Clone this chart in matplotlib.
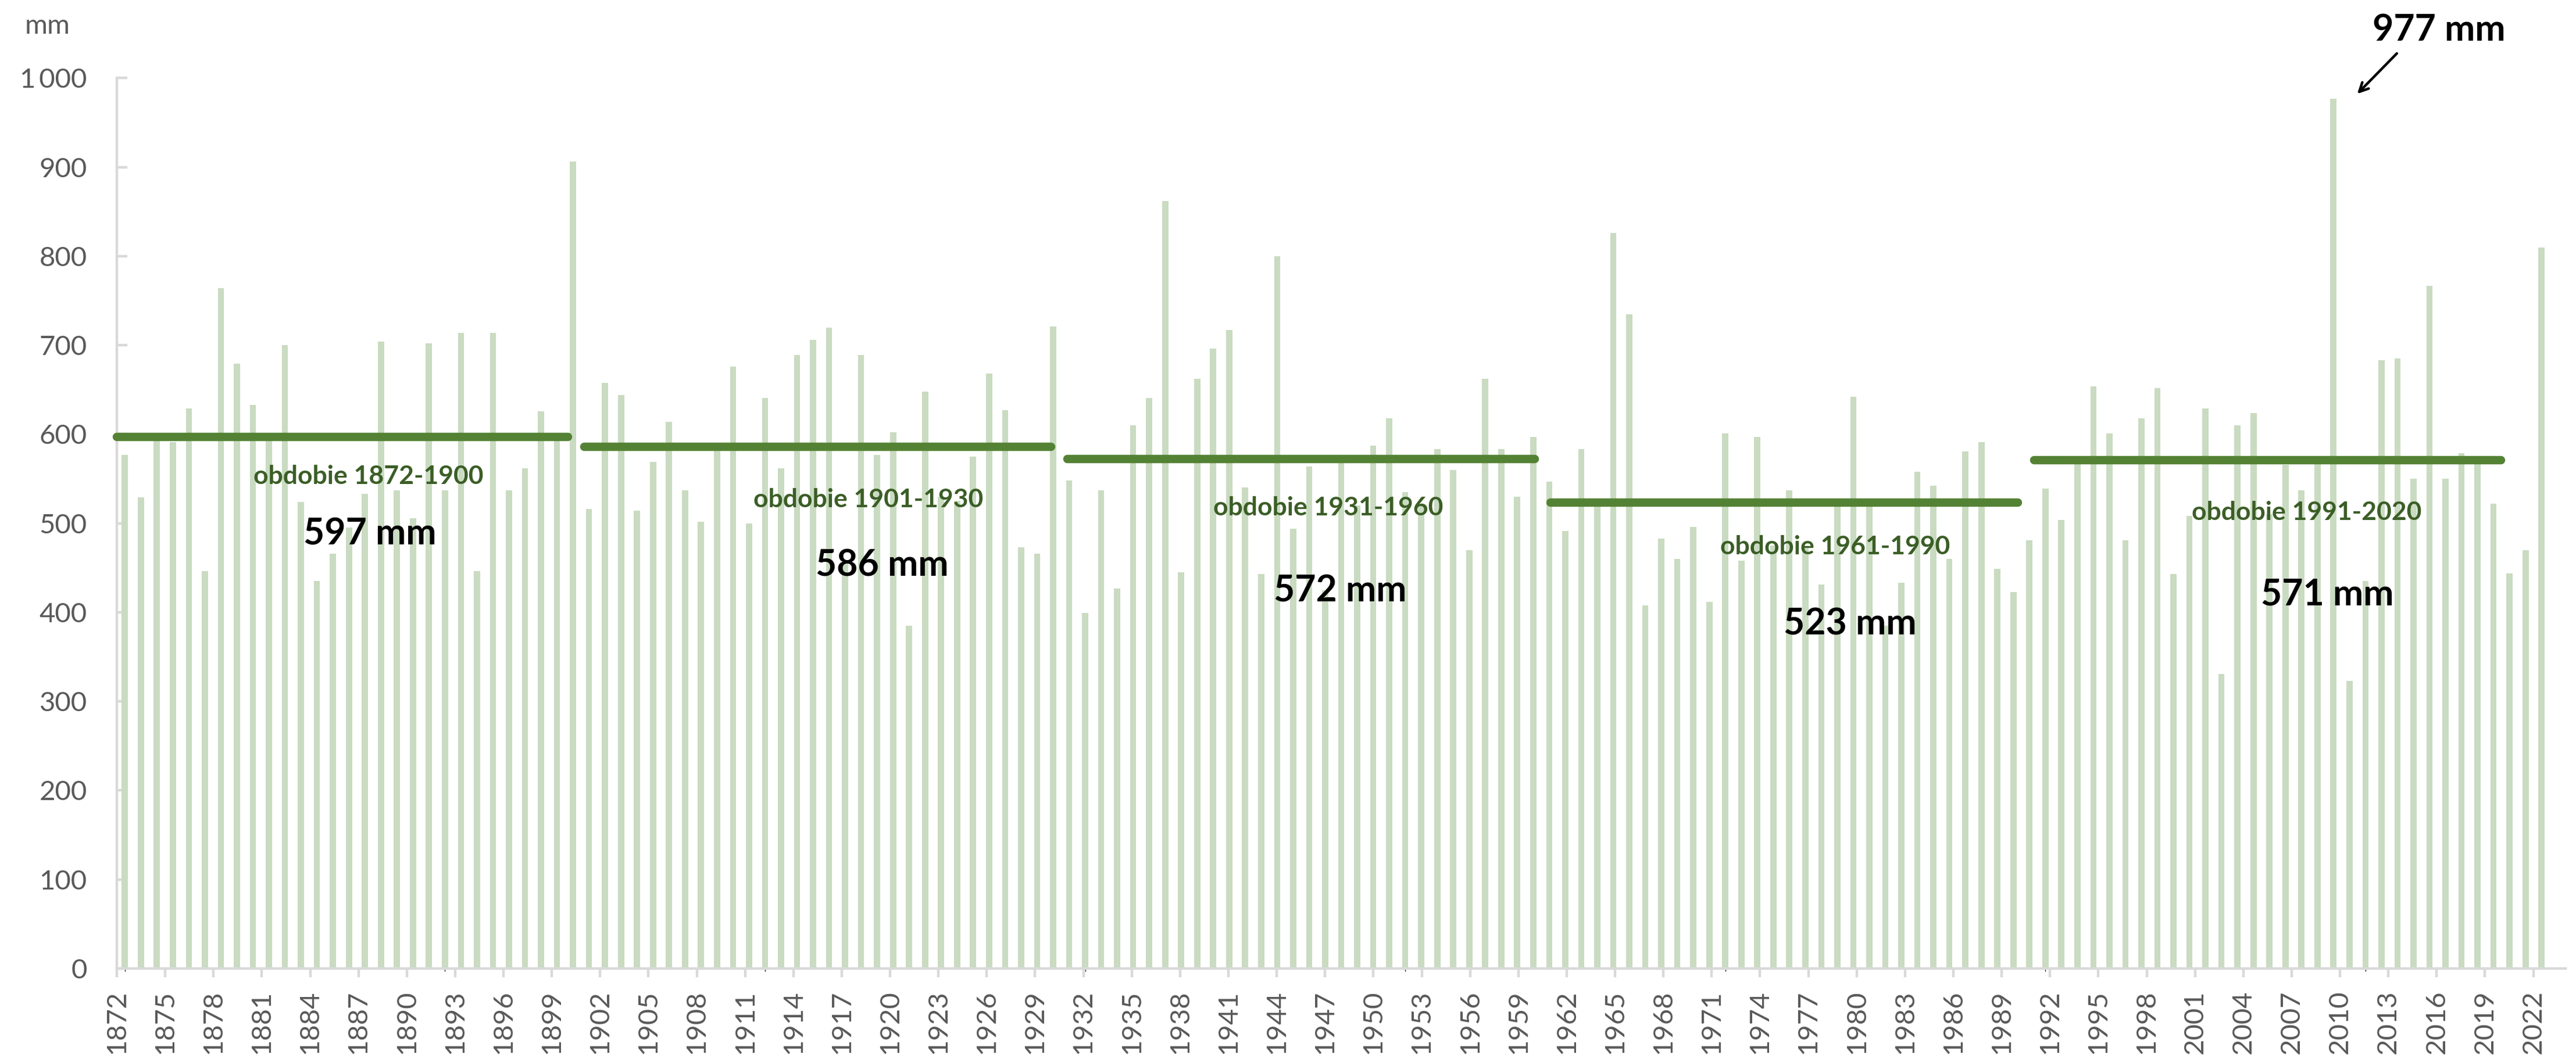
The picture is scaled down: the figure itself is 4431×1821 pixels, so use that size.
import numpy as np
import matplotlib
matplotlib.use('Agg')
from matplotlib import pyplot as plt

# annual precipitation totals (mm), 1872-2023
years = np.arange(1872, 2024)
precip = [577, 529, 594, 591, 629, 446, 764, 679,
          633, 593, 700, 524, 435, 466, 495, 533, 704, 537,
          506, 702, 537, 714, 446, 714, 537, 562, 626, 596,
          906, 516, 658, 644, 514, 569, 614, 537, 502, 584,
          676, 500, 641, 562, 689, 706, 720, 455, 689, 577,
          602, 385, 648, 530, 525, 575, 668, 627, 473, 466,
          721, 548, 399, 537, 427, 610, 641, 862, 445, 662,
          696, 717, 540, 443, 800, 494, 564, 425, 568, 520,
          587, 618, 535, 520, 583, 560, 470, 662, 583, 530,
          597, 547, 491, 583, 520, 826, 735, 408, 483, 460,
          496, 412, 601, 458, 597, 475, 537, 475, 431, 524,
          642, 520, 385, 433, 558, 542, 460, 581, 591, 449,
          423, 481, 539, 504, 568, 654, 601, 481, 618, 652,
          443, 508, 629, 331, 610, 624, 510, 566, 537, 569,
          977, 323, 435, 683, 685, 550, 767, 550, 579, 567,
          522, 444, 470, 810]

# climatological periods and their means
period_start = [1872, 1901, 1931, 1961, 1991]
period_end = [1900, 1930, 1960, 1990, 2020]
period_mean = [597, 586, 572, 523, 571]

max_year = 2010
max_value = 977

# where the period captions sit (year, mm of the text baseline)
caption_x = [1887.6, 1918.65, 1947.2, 1978.65, 2007.93]
caption_y = [544, 518, 509, 465, 504]
value_x = [1887.7, 1919.5, 1947.95, 1979.6, 2009.2]
value_y = [476, 441, 412, 375, 408]

bar_color = '#c9dbc1'
line_color = '#548235'
caption_color = '#3b5e26'
axis_color = '#d9d9d9'
tick_color = '#595959'

plt.rcParams['font.family'] = ['Lato', 'DejaVu Sans']

fig = plt.figure(figsize=(44.31, 18.21), dpi=100)
ax = fig.add_axes([0.04536, 0.08457, 0.95058, 0.84162])

# bars sit on a category axis with one spare slot at the end
pos = np.arange(len(years))
ax.bar(pos, precip, width=0.39, color=bar_color, zorder=2)
ax.set_xlim(-0.5, len(years) + 0.5)
ax.set_ylim(0, 1000)
ax.set_yticks(np.arange(0, 1001, 100))
ax.set_yticklabels(['1\u2009000' if v == 1000 else str(v) for v in range(0, 1001, 100)])
ax.tick_params(axis='y', direction='in', length=13, width=3.2, color=axis_color,
               labelsize=34, labelcolor=tick_color, pad=37)
ax.tick_params(axis='x', bottom=False, labelbottom=False)
for side in ['top', 'right']:
    ax.spines[side].set_visible(False)
ax.spines['left'].set_color(axis_color)
ax.spines['left'].set_linewidth(3.2)
ax.spines['bottom'].set_color(axis_color)
ax.spines['bottom'].set_linewidth(3.2)

# year scale used for the period lines and the axis labels
ax2 = ax.twiny()
ax2.set_xlim(1872, 2024)
for side in ['top', 'right', 'left', 'bottom']:
    ax2.spines[side].set_visible(False)
ax2.xaxis.set_ticks_position('bottom')
ax2.xaxis.set_label_position('bottom')
ax2.set_xticks(np.arange(1872, 2023, 3))
ax2.set_xticklabels([str(y) for y in range(1872, 2023, 3)], rotation=90)
ax2.tick_params(axis='x', direction='out', length=11, width=3.2, color=axis_color,
                labelsize=34, labelcolor=tick_color, pad=16)

for y0, y1, m in zip(period_start, period_end, period_mean):
    ax2.plot([y0, y1], [m, m], color=line_color, lw=10.4,
             solid_capstyle='round', clip_on=False, zorder=3)

for y0, y1, cx, cy in zip(period_start, period_end, caption_x, caption_y):
    ax2.text(cx, cy, 'obdobie %d-%d' % (y0, y1), color=caption_color,
             fontsize=32, fontweight='bold', ha='center', va='baseline', zorder=4)

for m, vx, vy in zip(period_mean, value_x, value_y):
    ax2.text(vx, vy, '%d mm' % m, color='black', fontsize=45,
             fontweight='bold', ha='center', va='baseline', zorder=4)

# wettest year
ax2.annotate('', xy=(max_year + 1.0, max_value + 4), xytext=(max_year + 3.6, 1029),
             arrowprops=dict(arrowstyle='->, head_length=1.1, head_width=0.55',
                             color='black', lw=3.2), annotation_clip=False)
ax2.text(max_year + 6.14, 1042, '%d mm' % max_value, color='black', fontsize=45,
         fontweight='bold', ha='center', va='baseline', clip_on=False)

fig.text(0.0185, 0.9681, 'mm', fontsize=34, color=tick_color, ha='center', va='baseline')

fig.savefig('out.png', dpi=100, facecolor='white')
